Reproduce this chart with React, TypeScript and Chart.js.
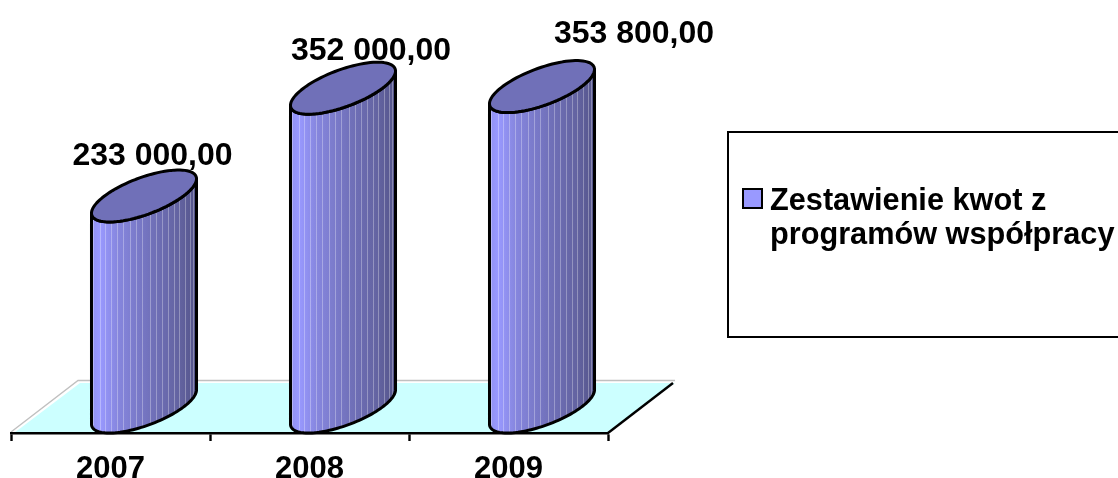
import React, { useEffect, useRef } from "react";
import { Chart, registerables } from "chart.js";

Chart.register(...registerables);

const categories = ["2007", "2008", "2009"];
const seriesName = ["Zestawienie kwot z", "programów współpracy"];
const values = [233000, 352000, 353800];
const valueLabels = ["233 000,00", "352 000,00", "353 800,00"];

const FONT = '"Liberation Sans", Arial, sans-serif';
const DEPTH_X = 67;
const DEPTH_Y = 52;
const ELL_Q = 26;
const SKEW = 0.876;
const STRIPES = [2, 9, 14, 20, 26, 32, 39, 45, 51, 58, 64, 70, 76, 82, 87, 93, 98, 101];
const LABEL_DX = [42, 61.5, 125.5];
const LABEL_DY = [-31, -28, -44];

function sidePath(ctx: CanvasRenderingContext2D, cx: number, yTop: number, yBase: number, a: number, p: number, q: number) {
  const pt = (c: number, t: number): [number, number] => [cx + Math.cos(t) * a + Math.sin(t) * p, c - Math.sin(t) * q];
  const start = Math.PI + Math.atan2(p, a);
  const end = start + Math.PI;
  ctx.beginPath();
  const s = pt(yTop, start);
  ctx.moveTo(s[0], s[1]);
  const N = 60;
  for (let i = 0; i <= N; i++) {
    const b = pt(yBase, start + ((end - start) * i) / N);
    ctx.lineTo(b[0], b[1]);
  }
  for (let i = N; i >= 0; i--) {
    const b = pt(yTop, start + ((end - start) * i) / N);
    ctx.lineTo(b[0], b[1]);
  }
  ctx.closePath();
}

function topPath(ctx: CanvasRenderingContext2D, cx: number, cy: number, a: number, p: number, q: number) {
  ctx.beginPath();
  const N = 90;
  for (let i = 0; i <= N; i++) {
    const t = (i / N) * Math.PI * 2;
    const x = cx + Math.cos(t) * a + Math.sin(t) * p;
    const y = cy - Math.sin(t) * q;
    if (i === 0) ctx.moveTo(x, y);
    else ctx.lineTo(x, y);
  }
  ctx.closePath();
}

const stage3d = {
  id: "stage3d",
  beforeDraw(chart: any) {
    const { ctx, chartArea: ca } = chart;
    const y = ca.bottom;
    ctx.save();
    ctx.beginPath();
    ctx.moveTo(ca.left + 3, y);
    ctx.lineTo(ca.left + DEPTH_X + 2, y - DEPTH_Y + 2);
    ctx.lineTo(ca.right + DEPTH_X, y - DEPTH_Y + 2);
    ctx.lineTo(ca.right, y);
    ctx.closePath();
    ctx.fillStyle = "#CCFFFF";
    ctx.fill();
    ctx.strokeStyle = "#C0C0C0";
    ctx.lineWidth = 1.4;
    ctx.beginPath();
    ctx.moveTo(ca.left, y - 1);
    ctx.lineTo(ca.left + DEPTH_X, y - DEPTH_Y - 0.5);
    ctx.lineTo(ca.right + DEPTH_X, y - DEPTH_Y - 0.5);
    ctx.stroke();
    ctx.strokeStyle = "#000";
    ctx.lineWidth = 2.4;
    ctx.beginPath();
    ctx.moveTo(ca.right, y);
    ctx.lineTo(ca.right + DEPTH_X - 2, y - DEPTH_Y + 2);
    ctx.stroke();
    ctx.restore();
  },
  beforeDatasetDraw() {
    return false;
  },
  afterDatasetsDraw(chart: any) {
    const { ctx } = chart;
    const meta = chart.getDatasetMeta(0);
    meta.data.forEach((bar: any) => {
      const a = bar.width / 2;
      const p = a * SKEW;
      const q = ELL_Q;
      const cx = bar.x + DEPTH_X / 2;
      const R = Math.sqrt(a * a + p * p);
      const yTop = bar.y;
      const yBase = bar.base;
      ctx.save();
      sidePath(ctx, cx, yTop, yBase, a, p, q);
      ctx.save();
      ctx.clip();
      const g = ctx.createLinearGradient(cx - R, 0, cx + R, 0);
      g.addColorStop(0, "#9090F0");
      g.addColorStop(0.08, "#9999FF");
      g.addColorStop(0.25, "#8686DE");
      g.addColorStop(0.55, "#7272BC");
      g.addColorStop(0.85, "#62629F");
      g.addColorStop(1, "#54548A");
      ctx.fillStyle = g;
      ctx.fillRect(cx - R - 2, yTop - q - 2, 2 * R + 4, yBase - yTop + 2 * q + 4);
      ctx.strokeStyle = "rgba(255,255,255,0.3)";
      ctx.lineWidth = 1;
      STRIPES.forEach((s) => {
        const x = Math.round(cx - R + (s / 105) * 2 * R) + 0.5;
        ctx.beginPath();
        ctx.moveTo(x, yTop - q);
        ctx.lineTo(x, yBase + q);
        ctx.stroke();
      });
      ctx.restore();
      sidePath(ctx, cx, yTop, yBase, a, p, q);
      ctx.strokeStyle = "#000";
      ctx.lineWidth = 3;
      ctx.lineJoin = "round";
      ctx.stroke();
      topPath(ctx, cx, yTop, a, p, q);
      ctx.fillStyle = "#7070B8";
      ctx.fill();
      ctx.stroke();
      ctx.restore();
    });
    ctx.save();
    ctx.fillStyle = "#000";
    ctx.font = `bold 32px ${FONT}`;
    ctx.textAlign = "center";
    ctx.textBaseline = "alphabetic";
    meta.data.forEach((bar: any, i: number) => {
      ctx.fillText(valueLabels[i], bar.x + LABEL_DX[i], bar.y + LABEL_DY[i]);
    });
    ctx.restore();

    ctx.save();
    ctx.strokeStyle = "#000";
    ctx.lineWidth = 2;
    ctx.strokeRect(728, 132, 400, 205);
    ctx.fillStyle = chart.data.datasets[0].backgroundColor;
    ctx.fillRect(743, 189, 19, 19);
    ctx.strokeRect(743, 189, 19, 19);
    ctx.fillStyle = "#000";
    ctx.font = `bold 30.7px ${FONT}`;
    ctx.textAlign = "left";
    ctx.fillText(seriesName[0], 770, 209.5);
    ctx.fillText(seriesName[1], 770, 243.5);
    ctx.restore();
  },
};

export default function App() {
  const ref = useRef<HTMLCanvasElement>(null);
  useEffect(() => {
    document.body.style.margin = "0";
    const chart = new Chart(ref.current!, {
      type: "bar",
      data: {
        labels: categories,
        datasets: [
          {
            label: seriesName.join(" "),
            data: values,
            backgroundColor: "#9999FF",
            borderColor: "#000",
            categoryPercentage: 1,
            barPercentage: 0.397,
          },
        ],
      },
      options: {
        responsive: false,
        animation: false,
        layout: { padding: { left: 11, right: 510, top: 0, bottom: 0 } },
        plugins: { legend: { display: false }, tooltip: { enabled: false } },
        scales: {
          x: {
            afterFit: (s: any) => {
              s.height = 45;
            },
            grid: {
              offset: true,
              drawOnChartArea: false,
              drawTicks: true,
              tickLength: 8,
              tickColor: "#000",
              tickWidth: 2.4,
            },
            border: { display: true, color: "#000", width: 2.4 },
            ticks: { color: "#000", padding: 10, font: { family: FONT, size: 31, weight: "bold" }, maxRotation: 0 },
          },
          y: { display: false, min: -28700, max: 449400 },
        },
      },
      plugins: [stage3d],
    } as any);
    return () => chart.destroy();
  }, []);
  return <canvas ref={ref} width={1118} height={478} style={{ display: "block" }} />;
}
